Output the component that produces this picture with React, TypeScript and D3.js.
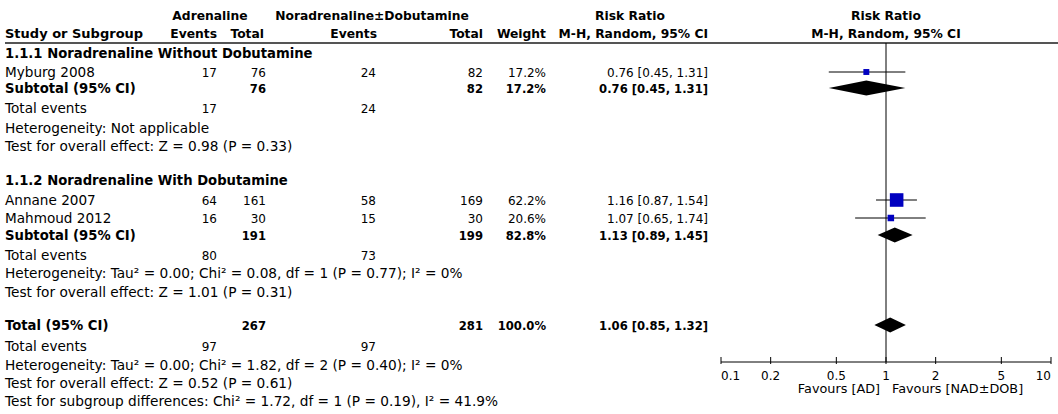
import * as d3 from "d3";

// studies
const studyNames = ["Myburg 2008", "Annane 2007", "Mahmoud 2012"];
const studyKeys = ["s0", "s1", "s2"];
const adEvents = [17, 64, 16];
const adTotals = [76, 161, 30];
const nadEvents = [24, 58, 15];
const nadTotals = [82, 169, 30];
const studyWeights = [17.2, 62.2, 20.6];
const studyRR = [0.76, 1.16, 1.07];
const studyLow = [0.45, 0.87, 0.65];
const studyHigh = [1.31, 1.54, 1.74];

// subgroups
const groupTitles = [
  "1.1.1 Noradrenaline Without Dobutamine",
  "1.1.2 Noradrenaline With Dobutamine",
];
const groupAdTotals = [76, 191];
const groupNadTotals = [82, 199];
const groupAdEvents = [17, 80];
const groupNadEvents = [24, 73];
const groupWeights = [17.2, 82.8];
const groupRR = [0.76, 1.13];
const groupLow = [0.45, 0.89];
const groupHigh = [1.31, 1.45];
const groupHetero = [
  "Heterogeneity: Not applicable",
  "Heterogeneity: Tau² = 0.00; Chi² = 0.08, df = 1 (P = 0.77); I² = 0%",
];
const groupEffect = [
  "Test for overall effect: Z = 0.98 (P = 0.33)",
  "Test for overall effect: Z = 1.01 (P = 0.31)",
];

// overall
const totalAd = 267;
const totalNad = 281;
const totalAdEvents = 97;
const totalNadEvents = 97;
const totalWeight = 100.0;
const totalRR = 1.06;
const totalLow = 0.85;
const totalHigh = 1.32;
const totalNotes = [
  "Heterogeneity: Tau² = 0.00; Chi² = 1.82, df = 2 (P = 0.40); I² = 0%",
  "Test for overall effect: Z = 0.52 (P = 0.61)",
  "Test for subgroup differences: Chi² = 1.72, df = 1 (P = 0.19), I² = 41.9%",
];

const tickValues = [0.1, 0.2, 0.5, 1, 2, 5, 10];

// layout (row baselines)
const rowKeys = [
  "h1", "h2", "g0t", "s0", "g0s", "g0e", "g0h", "g0z",
  "g1t", "s1", "s2", "g1s", "g1e", "g1h", "g1z",
  "tot", "tote", "toth", "totz", "totd",
];
const rowBase = [
  20, 38, 58, 77, 93, 113, 133, 151,
  185, 205, 223, 240, 260, 278, 297,
  330, 351, 370, 388, 406,
];

const W = 1058;
const H = 414;
const FONT = "'DejaVu Sans', Verdana, sans-serif";

// font sizes
const FS_TXT = 13.6;
const FS_BOLD = 13.2;
const FS_NOTE = 13.7;
const FS_NUM = 12;
const FS_NUMB = 11.6;
const FS_HEAD = 12.3;

const COL = {
  label: 5,
  adE: 217,
  adN: 266,
  nadE: 376,
  nadN: 483,
  weight: 546,
  rr: 708,
};

const fmt2 = d3.format(".2f");
const fmtW = d3.format(".1f");
const rrText = (r: number, l: number, h: number) =>
  `${fmt2(r)} [${fmt2(l)}, ${fmt2(h)}]`;

export default function App() {
  const x = d3.scaleLog().domain([0.1, 10]).range([721, 1051]);
  const y = d3.scaleOrdinal<string, number>().domain(rowKeys).range(rowBase);
  const mid = (k: string) => y(k) - 5;
  const boxSize = d3.scaleLinear().domain([0, 100]).range([3, 20]);
  const axisY = 362;
  const headerLineY = 43;

  const T = (
    key: string,
    xx: number,
    text: string | number,
    opts: { anchor?: string; bold?: boolean; size?: number } = {}
  ) => (
    <text
      key={`${key}-${xx}-${text}`}
      x={xx}
      y={y(key)}
      textAnchor={opts.anchor ?? "start"}
      fontWeight={opts.bold ? "bold" : "normal"}
      fontSize={opts.size ?? (opts.bold ? FS_BOLD : FS_TXT)}
    >
      {text}
    </text>
  );
  // numeric cell
  const N = (key: string, xx: number, text: string | number, bold = false) =>
    T(key, xx, text, {
      anchor: "end",
      bold,
      size: bold ? FS_NUMB : FS_NUM,
    });
  const Hd = (key: string, xx: number, text: string, anchor = "end") =>
    T(key, xx, text, { anchor, bold: true, size: FS_HEAD });
  const Note = (key: string, text: string) =>
    T(key, COL.label, text, { size: FS_NOTE });

  const diamond = (r: number, l: number, h: number, cy: number, hh: number) =>
    `M${x(l)},${cy} L${x(r)},${cy - hh} L${x(h)},${cy} L${x(r)},${cy + hh} Z`;

  const groupStudies = [[0], [1, 2]];
  const groupRows = [
    { t: "g0t", s: "g0s", e: "g0e", h: "g0h", z: "g0z" },
    { t: "g1t", s: "g1s", e: "g1e", h: "g1h", z: "g1z" },
  ];

  return (
    <svg
      width={W}
      height={H}
      style={{ position: "absolute", left: 0, top: 0, background: "#fff" }}
      fontFamily={FONT}
      fill="#000"
    >
      {/* headers */}
      {Hd("h1", 210, "Adrenaline", "middle")}
      {Hd("h1", 372, "Noradrenaline±Dobutamine", "middle")}
      {Hd("h1", 630, "Risk Ratio", "middle")}
      {Hd("h1", 886, "Risk Ratio", "middle")}
      {T("h2", COL.label, "Study or Subgroup", { bold: true, size: 13 })}
      {Hd("h2", COL.adE, "Events")}
      {Hd("h2", COL.adN - 2, "Total")}
      {Hd("h2", COL.nadE + 1, "Events")}
      {Hd("h2", COL.nadN, "Total")}
      {Hd("h2", COL.weight, "Weight")}
      {Hd("h2", COL.rr, "M-H, Random, 95% CI")}
      {Hd("h2", 886, "M-H, Random, 95% CI", "middle")}
      <line
        x1={5}
        x2={W}
        y1={headerLineY}
        y2={headerLineY}
        stroke="#555"
        strokeWidth={2}
      />

      {/* null line */}
      <line
        x1={x(1)}
        x2={x(1)}
        y1={headerLineY}
        y2={axisY}
        stroke="#000"
        strokeWidth={1}
      />

      {groupTitles.map((title, g) => {
        const rows = groupRows[g];
        return (
          <g key={title}>
            {T(rows.t, COL.label, title, { bold: true })}
            {groupStudies[g].map((i) => (
              <g key={studyNames[i]}>
                {T(studyKeys[i], COL.label, studyNames[i])}
                {N(studyKeys[i], COL.adE, adEvents[i])}
                {N(studyKeys[i], COL.adN, adTotals[i])}
                {N(studyKeys[i], COL.nadE, nadEvents[i])}
                {N(studyKeys[i], COL.nadN, nadTotals[i])}
                {N(studyKeys[i], COL.weight, `${fmtW(studyWeights[i])}%`)}
                {N(studyKeys[i], COL.rr, rrText(studyRR[i], studyLow[i], studyHigh[i]))}
                <line
                  x1={x(studyLow[i])}
                  x2={x(studyHigh[i])}
                  y1={mid(studyKeys[i])}
                  y2={mid(studyKeys[i])}
                  stroke="#000"
                  strokeWidth={1}
                />
                <rect
                  x={x(studyRR[i]) - boxSize(studyWeights[i]) / 2}
                  y={mid(studyKeys[i]) - boxSize(studyWeights[i]) / 2}
                  width={boxSize(studyWeights[i])}
                  height={boxSize(studyWeights[i])}
                  fill="#0000c0"
                />
              </g>
            ))}
            {T(rows.s, COL.label, "Subtotal (95% CI)", { bold: true })}
            {N(rows.s, COL.adN, groupAdTotals[g], true)}
            {N(rows.s, COL.nadN, groupNadTotals[g], true)}
            {N(rows.s, COL.weight, `${fmtW(groupWeights[g])}%`, true)}
            {N(rows.s, COL.rr, rrText(groupRR[g], groupLow[g], groupHigh[g]), true)}
            <path
              d={diamond(groupRR[g], groupLow[g], groupHigh[g], mid(rows.s), 7.5)}
              fill="#000"
            />
            {T(rows.e, COL.label, "Total events")}
            {N(rows.e, COL.adE, groupAdEvents[g])}
            {N(rows.e, COL.nadE, groupNadEvents[g])}
            {Note(rows.h, groupHetero[g])}
            {Note(rows.z, groupEffect[g])}
          </g>
        );
      })}

      {/* overall */}
      {T("tot", COL.label, "Total (95% CI)", { bold: true })}
      {N("tot", COL.adN, totalAd, true)}
      {N("tot", COL.nadN, totalNad, true)}
      {N("tot", COL.weight, `${fmtW(totalWeight)}%`, true)}
      {N("tot", COL.rr, rrText(totalRR, totalLow, totalHigh), true)}
      <path d={diamond(totalRR, totalLow, totalHigh, mid("tot"), 7.5)} fill="#000" />
      {T("tote", COL.label, "Total events")}
      {N("tote", COL.adE, totalAdEvents)}
      {N("tote", COL.nadE, totalNadEvents)}
      {Note("toth", totalNotes[0])}
      {Note("totz", totalNotes[1])}
      {Note("totd", totalNotes[2])}

      {/* axis */}
      <g fontSize={12}>
        <line
          x1={x(0.1)}
          x2={x(10)}
          y1={axisY}
          y2={axisY}
          stroke="#000"
          strokeWidth={1}
        />
        {tickValues.map((t, i) => (
          <g key={t}>
            <line
              x1={x(t)}
              x2={x(t)}
              y1={axisY - 5}
              y2={axisY + 2}
              stroke="#000"
              strokeWidth={1}
            />
            <text
              x={x(t)}
              y={axisY + 18}
              textAnchor={
                i === 0 ? "start" : i === tickValues.length - 1 ? "end" : "middle"
              }
            >
              {String(t)}
            </text>
          </g>
        ))}
        <text x={x(1) - 6} y={axisY + 31} textAnchor="end" fontSize={12.8}>
          Favours [AD]
        </text>
        <text x={x(1) + 6} y={axisY + 31} textAnchor="start" fontSize={12.8}>
          Favours [NAD±DOB]
        </text>
      </g>
    </svg>
  );
}
